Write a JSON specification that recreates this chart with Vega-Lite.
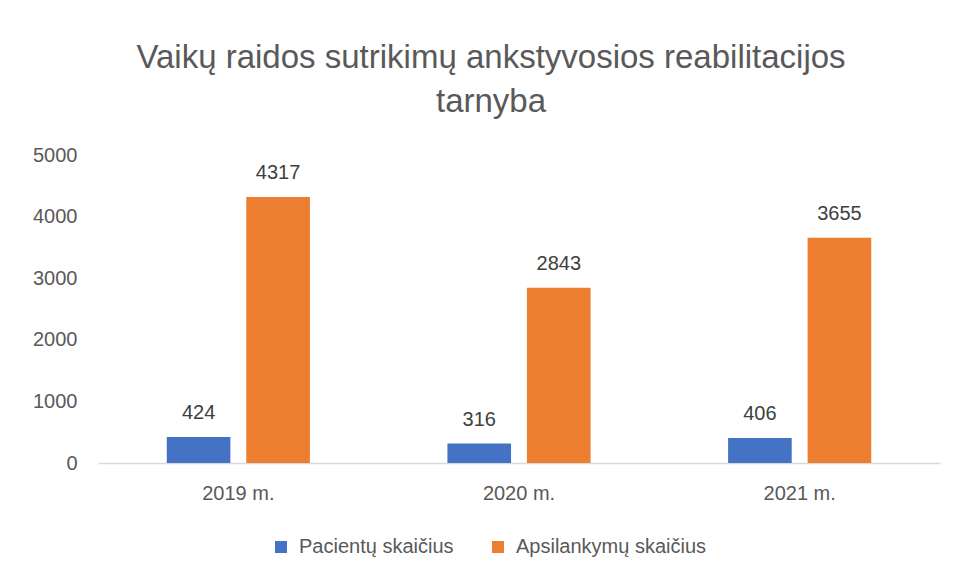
{
  "$schema": "https://vega.github.io/schema/vega-lite/v6.json",
  "width": 842,
  "height": 308,
  "autosize": {"type": "none"},
  "padding": {"left": 98, "top": 155, "right": 18, "bottom": 116},
  "background": "white",
  "config": {"view": {"stroke": null}, "font": "Liberation Sans"},
  "title": {
    "text": ["Vaikų raidos sutrikimų ankstyvosios reabilitacijos", "tarnyba"],
    "fontSize": 33,
    "font": "Liberation Sans",
    "fontWeight": "normal",
    "color": "#595959",
    "anchor": "middle",
    "frame": "group",
    "dx": -28,
    "offset": 26,
    "lineHeight": 44
  },
  "data": {
    "values": [
      {"year": "2019 m.", "series": "Pacientų skaičius", "value": 424},
      {"year": "2019 m.", "series": "Apsilankymų skaičius", "value": 4317},
      {"year": "2020 m.", "series": "Pacientų skaičius", "value": 316},
      {"year": "2020 m.", "series": "Apsilankymų skaičius", "value": 2843},
      {"year": "2021 m.", "series": "Pacientų skaičius", "value": 406},
      {"year": "2021 m.", "series": "Apsilankymų skaičius", "value": 3655}
    ]
  },
  "encoding": {
    "x": {
      "field": "year",
      "type": "nominal",
      "sort": null,
      "title": null,
      "scale": {"paddingInner": 0.49, "paddingOuter": 0.245},
      "axis": {
        "labelAngle": 0,
        "labelFontSize": 20,
        "labelColor": "#595959",
        "labelPadding": 20,
        "ticks": false,
        "domainColor": "#d9d9d9",
        "domainWidth": 1.5,
        "grid": false
      }
    },
    "xOffset": {
      "field": "series",
      "type": "nominal",
      "sort": ["Pacientų skaičius", "Apsilankymų skaičius"],
      "scale": {"paddingInner": 0.2, "paddingOuter": 0}
    },
    "y": {
      "field": "value",
      "type": "quantitative",
      "title": null,
      "scale": {"domain": [0, 5000], "nice": false},
      "axis": {
        "values": [0, 1000, 2000, 3000, 4000, 5000],
        "format": "d",
        "labelFontSize": 20,
        "labelColor": "#595959",
        "labelPadding": 21,
        "ticks": false,
        "domain": false,
        "grid": false
      }
    }
  },
  "layer": [
    {
      "mark": {"type": "bar"},
      "encoding": {
        "color": {
          "field": "series",
          "type": "nominal",
          "sort": ["Pacientų skaičius", "Apsilankymų skaičius"],
          "scale": {"domain": ["Pacientų skaičius", "Apsilankymų skaičius"], "range": ["#4472C4", "#ED7D31"]},
          "legend": {
            "title": null,
            "orient": "none",
            "direction": "horizontal",
            "legendX": 173,
            "legendY": 382,
            "padding": 0,
            "symbolType": "square",
            "symbolSize": 144,
            "symbolStrokeWidth": 0,
            "labelFontSize": 20,
            "labelLimit": 400,
            "labelColor": "#595959",
            "labelOffset": 8,
            "columnPadding": 34
          }
        }
      }
    },
    {
      "mark": {"type": "text", "baseline": "alphabetic", "dy": -18, "fontSize": 20, "color": "#404040"},
      "encoding": {"text": {"field": "value", "type": "quantitative", "format": "d"}}
    }
  ]
}
